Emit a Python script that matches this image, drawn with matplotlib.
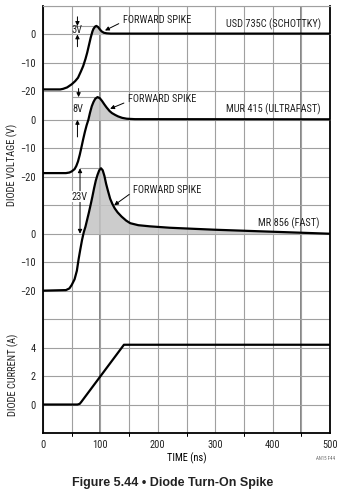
import matplotlib.pyplot as plt
import numpy as np

# USD 735C (Schottky) - time (ns), voltage (V)
t_schottky = [0, 30, 35, 42, 50, 56, 61, 66, 70, 74, 77, 80, 83, 86, 88, 91, 93, 96, 99, 102, 106, 111, 118, 130, 500]
v_schottky = [-19.3, -19.3, -19.1, -18.6, -17.5, -16.4, -15.2, -13.0, -11.1, -8.6, -6.4, -3.8, -1.2, 1.0, 2.0, 2.8, 3.0, 2.6, 1.8, 1.1, 0.6, 0.4, 0.3, 0.3, 0.3]

# MUR 415 (ultrafast)
t_ultrafast = [0, 40, 46, 50, 55, 58, 61, 64, 67, 70, 73, 76, 79, 82, 85, 88, 91, 95, 99, 103, 107, 111, 116, 120, 126, 131, 138, 146, 160, 500]
v_ultrafast = [-18.7, -18.7, -18.5, -18.1, -17.3, -16.2, -14.6, -12.3, -9.6, -6.8, -4.2, -1.9, 0.0, 2.6, 4.8, 6.3, 7.4, 8.0, 7.6, 6.6, 5.4, 4.3, 3.1, 2.4, 1.7, 1.2, 0.7, 0.4, 0.25, 0.2]

# MR 856 (fast)
t_fast = [0, 40, 46, 50, 55, 59, 62, 65, 68, 71, 74, 77, 80, 83, 86, 89, 92, 95, 98, 101, 104, 107, 110, 113, 117, 121, 125, 130, 137, 145, 152, 166, 186, 221, 260, 300, 350, 400, 450, 500]
v_fast = [-20.0, -19.8, -19.2, -18.0, -16.0, -13.0, -9.0, -5.5, -2.2, 0.5, 2.5, 5.0, 7.5, 10.2, 13.0, 16.0, 18.7, 20.7, 22.3, 23.0, 22.3, 20.3, 17.5, 15.2, 12.3, 10.4, 8.9, 7.5, 6.0, 4.6, 3.7, 3.0, 2.6, 2.1, 1.75, 1.4, 1.05, 0.7, 0.35, 0.0]

# diode current (A)
t_current = [0, 60, 64, 67, 141, 500]
i_current = [0, 0, 0.05, 0.2, 4.2, 4.2]

spike_heights = [3, 8, 23]
volt_ticks = [-20, -10, 0]
amp_ticks = [0, 2, 4]
time_ticks = [0, 100, 200, 300, 400, 500]

plt.rcParams['font.family'] = ['Roboto Condensed', 'DejaVu Sans']
plt.rcParams['text.color'] = '#222222'

fig = plt.figure(figsize=(3.46, 5.0), dpi=100)
rect = [43 / 346, 67 / 500, 287 / 346, 427 / 500]

GRID = '#a0a0a0'
FILL = '#c4c4c4'
TEXT = '#222222'
FS = 7.5

# base axes carries the current trace and the shared grid (15 divisions high)
ax = fig.add_axes(rect)
ax.set_xlim(0, 500)
ax.set_ylim(-2, 28)
ax.set_xticks(time_ticks)
ax.set_xticks(np.arange(0, 501, 50), minor=True)
ax.set_yticks(amp_ticks)
ax.set_yticks(np.arange(-2, 29, 2), minor=True)
ax.grid(which='both', color=GRID, lw=0.8)
for t in (100, 450):
    ax.axvline(t, color='#707070', lw=1.2, zorder=0.6)
ax.tick_params(which='both', length=0, labelsize=FS, pad=5, colors=TEXT)
for side in ('left', 'bottom', 'right'):
    ax.spines[side].set_linewidth(1.3)
ax.spines['top'].set_color(GRID)
ax.spines['top'].set_linewidth(0.8)
ax.plot(t_current, i_current, color='black', lw=1.6, solid_capstyle='butt')
ax.set_xlabel('TIME (ns)', fontsize=FS, labelpad=2)


def volt_axes(top):
    a = fig.add_axes(rect, sharex=ax)
    a.patch.set_visible(False)
    a.set_ylim(top - 150, top)
    a.set_yticks(volt_ticks)
    a.tick_params(axis='y', length=0, labelsize=FS, pad=5, colors=TEXT)
    a.tick_params(axis='x', length=0, labelbottom=False)
    for s in a.spines.values():
        s.set_visible(False)
    return a


traces = [
    (10, t_schottky, v_schottky),
    (40, t_ultrafast, v_ultrafast),
    (80, t_fast, v_fast),
]
volt_axes_list = []
for top, t, v in traces:
    a = volt_axes(top)
    t = np.array(t)
    v = np.array(v)
    a.fill_between(t, v, 0, where=v > 0, interpolate=True, color=FILL, alpha=0.85, lw=0, zorder=1)
    a.plot(t, v, color='black', lw=1.6, zorder=3)
    volt_axes_list.append(a)

a1, a2, a3 = volt_axes_list
head = dict(arrowstyle='-|>', color='black', lw=0.7, mutation_scale=6, shrinkA=0, shrinkB=0)

# trace names
a1.text(484, 3.6, 'USD 735C (SCHOTTKY)', ha='right', va='center', fontsize=FS)
a2.text(484, 3.7, 'MUR 415 (ULTRAFAST)', ha='right', va='center', fontsize=FS)
a3.text(481, 3.6, 'MR 856 (FAST)', ha='right', va='center', fontsize=FS)

# forward spike callouts
a1.annotate('FORWARD SPIKE', xy=(108, 1.4), xytext=(139, 5.2), ha='left', va='center', fontsize=FS,
            arrowprops=dict(head, relpos=(0, 0.3), shrinkA=1))
a2.annotate('FORWARD SPIKE', xy=(117, 3.9), xytext=(148, 7.2), ha='left', va='center', fontsize=FS,
            arrowprops=dict(head, relpos=(0, 0.3), shrinkA=1))
a3.annotate('FORWARD SPIKE', xy=(124, 10.0), xytext=(157, 15.5), ha='left', va='center', fontsize=FS,
            arrowprops=dict(head, relpos=(0, 0.3), shrinkA=1))

# spike height dimensions
h1, h2, h3 = spike_heights
a1.plot([52, 93], [h1, h1], color=GRID, lw=0.8, zorder=2)
a1.annotate('', xy=(60, h1), xytext=(60, h1 + 3.2), arrowprops=head)
a1.annotate('', xy=(60, 0), xytext=(60, -4.3), arrowprops=head)
a1.text(60, 1.5, '%dV' % h1, ha='center', va='center', fontsize=FS)

a2.plot([52, 95], [h2, h2], color=GRID, lw=0.8, zorder=2)
a2.annotate('', xy=(62, h2), xytext=(62, h2 + 3.0), arrowprops=head)
a2.annotate('', xy=(60, 0), xytext=(60, -6.0), arrowprops=head)
a2.text(61, 3.7, '%dV' % h2, ha='center', va='center', fontsize=FS)

a3.plot([64, 101], [h3, h3], color=GRID, lw=0.8, zorder=2)
a3.annotate('', xy=(64.5, h3), xytext=(64.5, 0), arrowprops=dict(head, arrowstyle='<|-|>'))
a3.text(64, 13, '%dV' % h3, ha='center', va='center', fontsize=FS,
        bbox=dict(fc='white', ec='none', pad=0.5), zorder=4)

fig.text(12 / 346, 1 - 165 / 500, 'DIODE VOLTAGE (V)', rotation=90, ha='center', va='center', fontsize=FS)
fig.text(13 / 346, 1 - 375 / 500, 'DIODE CURRENT (A)', rotation=90, ha='center', va='center', fontsize=FS)
fig.text(335 / 346, 1 - 458 / 500, 'AN15 F44', ha='right', va='center', fontsize=3.5, color='#666666')
fig.text(0.5, 1 - 483 / 500, 'Figure 5.44 \u2022 Diode Turn-On Spike', ha='center', va='center',
         fontsize=9, fontweight='bold', family=['Liberation Sans', 'DejaVu Sans'])

fig.savefig('out.png', dpi=100)
